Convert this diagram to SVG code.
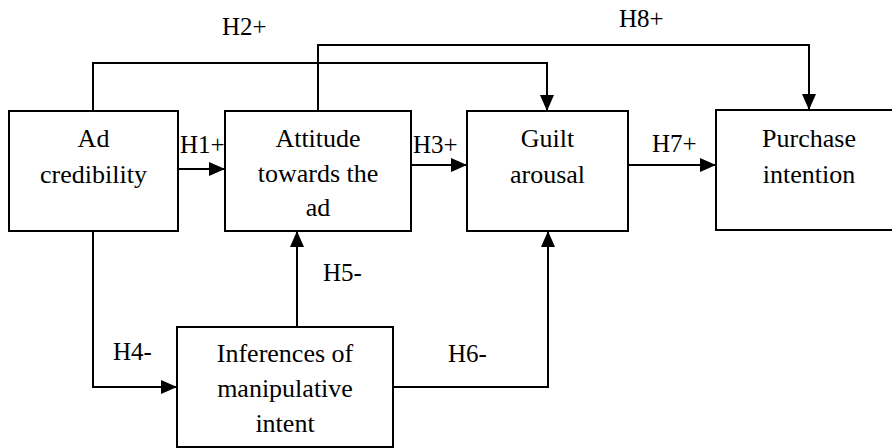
<svg xmlns="http://www.w3.org/2000/svg" width="892" height="448" viewBox="0 0 892 448">
  <style>
    .box { fill: #fff; stroke: #000; stroke-width: 2; }
    text { font-family: "Liberation Serif", "Times New Roman", serif; fill: #000; }
    .lbl { font-size: 26px; text-anchor: middle; }
    .hyp { font-size: 25px; }
    .edge { fill: none; stroke: #000; stroke-width: 2; marker-end: url(#arrow); }
  </style>
  <defs>
    <marker id="arrow" markerUnits="userSpaceOnUse" markerWidth="16" markerHeight="14" refX="16" refY="7" orient="auto">
      <path d="M0,0 L16,7 L0,14 Z" fill="#000"/>
    </marker>
  </defs>
  <rect width="892" height="448" fill="#fff"/>

  <!-- hypothesis paths between constructs -->
  <g id="connectors">
    <path class="edge" d="M178,169 H225"/>
    <path class="edge" d="M93,111 V63 H547 V111"/>
    <path class="edge" d="M318,111 V45 H809 V110"/>
    <path class="edge" d="M411,165 H467"/>
    <path class="edge" d="M628,165 H716"/>
    <path class="edge" d="M93,231 V387 H177"/>
    <path class="edge" d="M297,327 V231"/>
    <path class="edge" d="M393,387 H548 V231"/>
  </g>

  <g id="hypothesis-labels">
    <text class="hyp" x="222" y="35">H2+</text>
    <text class="hyp" x="619" y="27">H8+</text>
    <text class="hyp" x="180" y="153">H1+</text>
    <text class="hyp" x="413" y="153">H3+</text>
    <text class="hyp" x="652" y="152">H7+</text>
    <text class="hyp" x="323" y="281">H5-</text>
    <text class="hyp" x="448" y="362">H6-</text>
    <text class="hyp" x="113" y="360">H4-</text>
  </g>

  <g id="ad-credibility">
    <rect class="box" x="9" y="111" width="169" height="120"/>
    <text class="lbl" x="93.5" y="147">Ad</text>
    <text class="lbl" x="93.5" y="183">credibility</text>
  </g>

  <g id="attitude-towards-ad">
    <rect class="box" x="225" y="111" width="186" height="120"/>
    <text class="lbl" x="318" y="147">Attitude</text>
    <text class="lbl" x="318" y="182">towards the</text>
    <text class="lbl" x="318" y="216">ad</text>
  </g>

  <g id="guilt-arousal">
    <rect class="box" x="467" y="111" width="161" height="120"/>
    <text class="lbl" x="547.5" y="147">Guilt</text>
    <text class="lbl" x="547.5" y="183">arousal</text>
  </g>

  <g id="purchase-intention">
    <rect class="box" x="716" y="110" width="200" height="120"/>
    <text class="lbl" x="809" y="147">Purchase</text>
    <text class="lbl" x="809" y="183">intention</text>
  </g>

  <g id="inferences-manipulative-intent">
    <rect class="box" x="177" y="327" width="216" height="120"/>
    <text class="lbl" x="285" y="362">Inferences of</text>
    <text class="lbl" x="285" y="397">manipulative</text>
    <text class="lbl" x="285" y="432">intent</text>
  </g>
</svg>
